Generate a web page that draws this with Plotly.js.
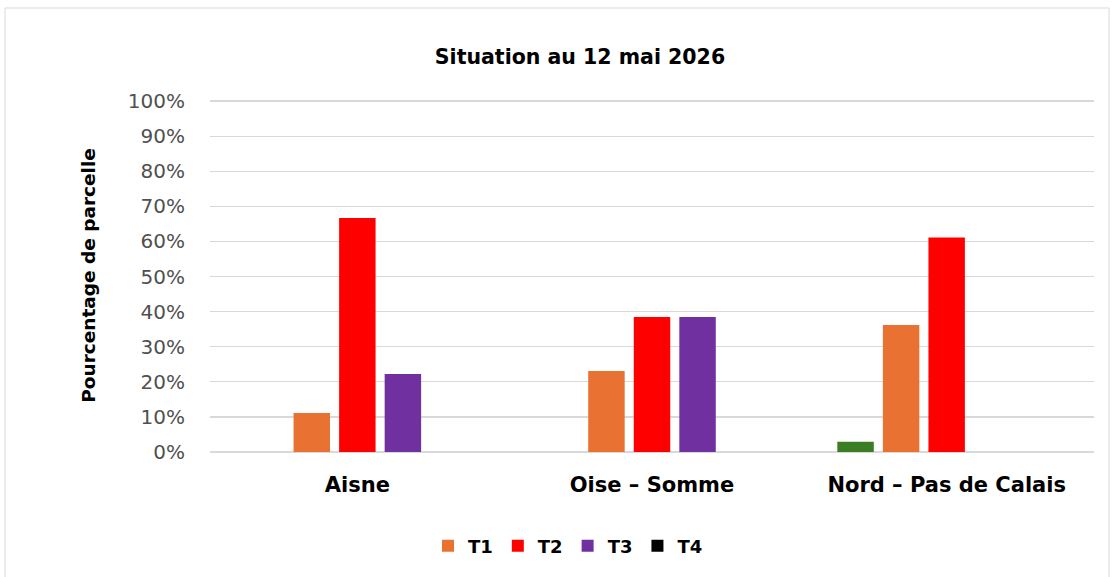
<!DOCTYPE html>
<html>
<head>
<meta charset="utf-8">
<script src="https://cdn.plot.ly/plotly-3.0.1.min.js"></script>
<style>html,body{margin:0;padding:0;background:#fff;}#chart{width:1114px;height:577px;}</style>
</head>
<body>
<div id="chart"></div>
<script>
var categories = ["Aisne", "Oise \u2013 Somme", "Nord \u2013 Pas de Calais"];
var seriesNames = ["T0", "T1", "T2", "T3", "T4"];
var T0 = [0, 0, 2.9];
var T1 = [11.1, 23.1, 36.2];
var T2 = [66.7, 38.5, 61.1];
var T3 = [22.2, 38.5, 0];
var T4 = [0, 0, 0];
var yTickVals = [0, 10, 20, 30, 40, 50, 60, 70, 80, 90, 100];
var yTickText = ["0%", "10%", "20%", "30%", "40%", "50%", "60%", "70%", "80%", "90%", "100%"];

var colors = ["#3B7D23", "#E97132", "#FF0000", "#7030A0", "#000000"];
var values = [T0, T1, T2, T3, T4];
var traces = values.map(function (v, i) {
  return {
    type: "bar",
    name: seriesNames[i],
    x: categories,
    y: v,
    marker: { color: colors[i], line: { width: 0 } },
    showlegend: i !== 0,
    hoverinfo: "name+y"
  };
});

var L = 210, R = 20, T = 99, B = 125;
var W = 1114, H = 577;
var pw = W - L - R, ph = H - T - B;
function px(x) { return (x - L) / pw; }
function py(y) { return (H - B - y) / ph; }

var layout = {
  width: W, height: H,
  margin: { l: L, r: R, t: T, b: B, pad: 0 },
  paper_bgcolor: "#ffffff",
  plot_bgcolor: "#ffffff",
  font: { family: "DejaVu Sans", color: "#000000" },
  title: {
    text: "<b>Situation au 12 mai 2026</b>",
    font: { family: "DejaVu Sans", size: 20.5, color: "#000000" },
    xref: "container", yref: "container",
    x: 580 / W, y: 1 - 57 / H, xanchor: "center", yanchor: "middle"
  },
  barmode: "group",
  bargap: 0.227,
  bargroupgap: 0.2,
  xaxis: {
    type: "category",
    showgrid: false,
    showline: false,
    zeroline: false,
    ticks: "",
    ticklabelstandoff: 18,
    tickfont: { family: "DejaVu Sans", size: 21, color: "#000000", weight: "bold" }
  },
  yaxis: {
    range: [0, 100.6],
    tickvals: yTickVals,
    ticktext: yTickText,
    showgrid: true,
    gridcolor: "#d9d9d9",
    gridwidth: 1.3,
    zeroline: true,
    zerolinecolor: "#d9d9d9",
    zerolinewidth: 1.3,
    showline: false,
    ticks: "",
    ticklabelstandoff: 24,
    tickfont: { family: "DejaVu Sans", size: 20, color: "#505050" },
    title: {
      text: "<b>Pourcentage de parcelle</b>",
      font: { family: "DejaVu Sans", size: 18.5, color: "#000000" },
      standoff: 27
    },
    fixedrange: true
  },
  legend: {
    orientation: "h",
    x: px(428), y: py(546), xanchor: "left", yanchor: "middle",
    font: { family: "DejaVu Sans", size: 18, color: "#000000", weight: "bold" },
    traceorder: "normal",
    bgcolor: "rgba(0,0,0,0)"
  },
  shapes: [
    { type: "rect", xref: "paper", yref: "paper",
      x0: px(5), x1: px(1109), y0: py(600), y1: py(8),
      line: { color: "#d9d9d9", width: 1 }, fillcolor: "rgba(0,0,0,0)", layer: "below" }
  ]
};

Plotly.newPlot("chart", traces, layout, { displayModeBar: false, staticPlot: true });
</script>
</body>
</html>
